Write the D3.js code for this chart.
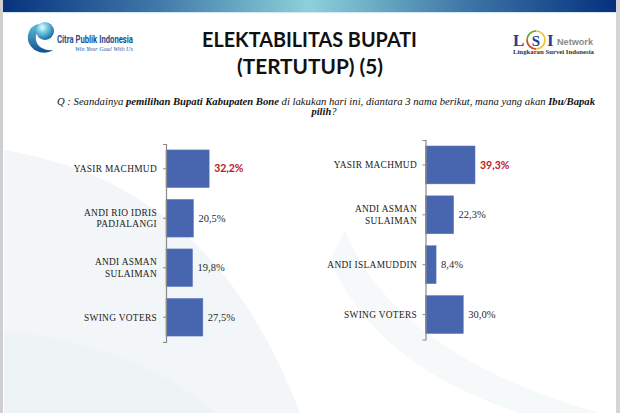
<!DOCTYPE html>
<html><head><meta charset="utf-8">
<script src="https://cdn.jsdelivr.net/npm/d3@7"></script>
<style>
html,body{margin:0;padding:0;background:#fff;}
svg{display:block;}
</style></head>
<body>
<script>
// ---- data ----
const leftCategories = ["YASIR MACHMUD", "ANDI RIO IDRIS\nPADJALANGI", "ANDI ASMAN\nSULAIMAN", "SWING VOTERS"];
const leftValues = [32.2, 20.5, 19.8, 27.5];
const leftLabels = ["32,2%", "20,5%", "19,8%", "27,5%"];
const rightCategories = ["YASIR MACHMUD", "ANDI ASMAN\nSULAIMAN", "ANDI ISLAMUDDIN", "SWING VOTERS"];
const rightValues = [39.3, 22.3, 8.4, 30.0];
const rightLabels = ["39,3%", "22,3%", "8,4%", "30,0%"];
const titleLines = ["ELEKTABILITAS BUPATI", "(TERTUTUP) (5)"];

const W = 620, H = 413;
const svg = d3.select("body").append("svg").attr("width", W).attr("height", H);
const defs = svg.append("defs");

// top bar gradient
const g1 = defs.append("linearGradient").attr("id", "topbar");
[[0, "#07337f"], [0.25, "#3f78a8"], [0.5, "#8cd1da"], [0.75, "#3f78a8"], [1, "#05307e"]]
  .forEach(([o, c]) => g1.append("stop").attr("offset", o).attr("stop-color", c));
const g2 = defs.append("radialGradient").attr("id", "ball").attr("cx", "35%").attr("cy", "30%").attr("r", "70%");
[[0, "#e6fbff"], [0.45, "#6cc6dc"], [1, "#1f6ea8"]].forEach(([o, c]) => g2.append("stop").attr("offset", o).attr("stop-color", c));
const g3 = defs.append("linearGradient").attr("id", "swirl").attr("x1", 0).attr("y1", 0).attr("x2", 0).attr("y2", 1);
[[0, "#5fc0d8"], [1, "#0f4f93"]].forEach(([o, c]) => g3.append("stop").attr("offset", o).attr("stop-color", c));

// background
svg.append("rect").attr("width", W).attr("height", H).attr("fill", "#ffffff");
svg.append("path").attr("d", "M4,150 C120,170 230,230 300,413 L4,413 Z").attr("fill", "#f2f6f8");
svg.append("path").attr("d", "M4,330 C90,340 170,370 215,413 L4,413 Z").attr("fill", "#eef3f6");
svg.append("path").attr("d", "M330,260 C360,330 420,380 520,413 L600,413 C480,380 380,320 345,230 Z").attr("fill", "#f6f9fa");
svg.append("rect").attr("x", 0).attr("y", 0).attr("width", 3).attr("height", H).attr("fill", "#cfcfcf");
svg.append("rect").attr("x", 616).attr("y", 0).attr("width", 4).attr("height", H).attr("fill", "#d6d6d6");
svg.append("rect").attr("x", 3).attr("y", 0).attr("width", 613).attr("height", 12).attr("fill", "url(#topbar)");
svg.append("rect").attr("x", 3).attr("y", 12).attr("width", 613).attr("height", 1.2).attr("fill", "#d7ecf2");

// left logo
const ll = svg.append("g");
ll.append("path").attr("d", "M42,24 C29,23 25,37 30,45 C35,53 46,55 53,50 C45,51 37,47 36,40 C35,34 38,31 42,31 Z").attr("fill", "url(#swirl)");
ll.append("circle").attr("cx", 45).attr("cy", 31).attr("r", 9).attr("fill", "url(#ball)");
ll.append("text").attr("x", 57).attr("y", 43).attr("font-family", "'Roboto', 'Liberation Sans', sans-serif")
  .attr("font-weight", "bold").attr("font-size", 10.5).attr("fill", "#1d4f8e")
  .attr("textLength", 76).attr("lengthAdjust", "spacingAndGlyphs").text("Citra Publik Indonesia");
ll.append("text").attr("x", 75).attr("y", 50.5).attr("font-family", "'Liberation Serif', serif")
  .attr("font-style", "italic").attr("font-size", 5.5).attr("fill", "#2a63a6")
  .attr("textLength", 58).attr("lengthAdjust", "spacingAndGlyphs").text("Win Your Goal With Us");

// right logo
const rl = svg.append("g");
rl.append("text").attr("x", 513).attr("y", 46).attr("font-family", "'Liberation Serif', serif").attr("font-weight", "bold")
  .attr("font-size", 17).attr("fill", "#2a3b8f").text("L");
rl.append("circle").attr("cx", 536).attr("cy", 40).attr("r", 9).attr("fill", "none").attr("stroke", "#e9c431").attr("stroke-width", 1.6);
rl.append("path").attr("d", "M527,40 A9,9 0 0 1 536,31").attr("fill", "none").attr("stroke", "#4caf50").attr("stroke-width", 1.6);
rl.append("path").attr("d", "M536,49 A9,9 0 0 1 527,40").attr("fill", "none").attr("stroke", "#d9453b").attr("stroke-width", 1.6);
rl.append("text").attr("x", 536).attr("y", 45.5).attr("text-anchor", "middle").attr("font-family", "'Liberation Serif', serif").attr("font-weight", "bold")
  .attr("font-size", 15).attr("fill", "#2a3b8f").text("S");
rl.append("text").attr("x", 547).attr("y", 46).attr("font-family", "'Liberation Serif', serif").attr("font-weight", "bold")
  .attr("font-size", 17).attr("fill", "#2a3b8f").text("I");
rl.append("text").attr("x", 557).attr("y", 45).attr("font-family", "'Liberation Sans', sans-serif").attr("font-weight", "bold")
  .attr("font-size", 8.5).attr("fill", "#8a8a8a").attr("textLength", 36).attr("lengthAdjust", "spacingAndGlyphs").text("Network");
rl.append("text").attr("x", 513).attr("y", 53.5).attr("font-family", "'Liberation Serif', serif").attr("font-weight", "bold")
  .attr("font-size", 6).attr("fill", "#333").attr("textLength", 81).attr("lengthAdjust", "spacingAndGlyphs").text("Lingkaran Survei Indonesia");

// title
const titleFont = "Lato, 'Open Sans', sans-serif";
svg.append("text").attr("x", 309.5).attr("y", 47).attr("text-anchor", "middle").attr("font-family", titleFont)
  .attr("font-weight", "bold").attr("font-size", 20.5).attr("fill", "#111")
  .attr("textLength", 215).attr("lengthAdjust", "spacingAndGlyphs").text(titleLines[0]);
svg.append("text").attr("x", 310).attr("y", 74).attr("text-anchor", "middle").attr("font-family", titleFont)
  .attr("font-weight", "bold").attr("font-size", 20.5).attr("fill", "#111")
  .attr("textLength", 146).attr("lengthAdjust", "spacingAndGlyphs").text(titleLines[1]);

// question
const q = svg.append("text").attr("x", 57).attr("y", 104.5).attr("font-family", "'Liberation Serif', 'DejaVu Serif', serif")
  .attr("font-style", "italic").attr("font-size", 10.5).attr("fill", "#111")
  .attr("textLength", 538).attr("lengthAdjust", "spacingAndGlyphs");
q.append("tspan").text("Q : Seandainya ");
q.append("tspan").attr("font-weight", "bold").text("pemilihan Bupati Kabupaten Bone");
q.append("tspan").text(" di lakukan hari ini, diantara 3 nama berikut, mana yang akan ");
q.append("tspan").attr("font-weight", "bold").text("Ibu/Bapak");
const q2 = svg.append("text").attr("x", 324).attr("y", 114.5).attr("text-anchor", "middle")
  .attr("font-family", "'Liberation Serif', 'DejaVu Serif', serif").attr("font-style", "italic").attr("font-size", 10.5).attr("fill", "#111");
q2.append("tspan").attr("font-weight", "bold").text("pilih");
q2.append("tspan").text("?");

// charts
function drawChart(cats, vals, labels, opt) {
  const g = svg.append("g");
  const x = d3.scaleLinear().domain([0, opt.xmax]).range([opt.x0, opt.x0 + opt.xmax * opt.ppu]);
  const y = d3.scaleBand().domain(d3.range(cats.length)).range([opt.y0, opt.y1]).paddingInner(0.24).paddingOuter(0.12);

  g.selectAll("rect.bar").data(vals).join("rect").attr("class", "bar")
    .attr("x", x(0)).attr("y", (d, i) => y(i)).attr("width", d => x(d) - x(0)).attr("height", y.bandwidth())
    .attr("fill", "#4866af").attr("stroke", "#5a77bd").attr("stroke-width", 0.5);

  const axis = d3.axisLeft(y).tickSize(3).tickSizeOuter(3).tickFormat("");
  const ag = g.append("g").attr("transform", `translate(${x(0)},0)`).call(axis);
  ag.select(".domain").attr("stroke", "#8a8a8a").attr("stroke-width", 1.2);
  ag.selectAll(".tick line").attr("stroke", "#8a8a8a");

  // category labels
  cats.forEach((c, i) => {
    const lines = c.split("\n");
    const cy = y(i) + y.bandwidth() / 2;
    const lh = 11.3;
    const t = g.append("text").attr("text-anchor", "end").attr("font-family", "'Liberation Serif', 'DejaVu Serif', serif")
      .attr("font-size", 9.4).attr("letter-spacing", 0.3).attr("fill", "#1a1a1a");
    lines.forEach((ln, k) => {
      t.append("tspan").attr("x", opt.labelX).attr("y", cy + (k - (lines.length - 1) / 2) * lh + 3.3).text(ln);
    });
  });

  // value labels
  g.selectAll("text.val").data(vals).join("text").attr("class", "val")
    .attr("x", d => x(d) + 5).attr("y", (d, i) => y(i) + y.bandwidth() / 2 + 3.6)
    .attr("font-family", (d, i) => i === 0 ? "Lato, 'Liberation Sans', sans-serif" : "'Liberation Serif', 'DejaVu Serif', serif")
    .attr("font-weight", (d, i) => i === 0 ? "bold" : "normal")
    .attr("font-size", 10.5)
    .attr("fill", (d, i) => i === 0 ? "#c0161d" : "#2a2a2a")
    .text((d, i) => labels[i]);
}

drawChart(leftCategories, leftValues, leftLabels, { x0: 166, ppu: 1.34, xmax: 40, y0: 144, y1: 342, labelX: 157 });
drawChart(rightCategories, rightValues, rightLabels, { x0: 425.5, ppu: 1.26, xmax: 45, y0: 140, y1: 339.5, labelX: 417 });
</script>
</body></html>
